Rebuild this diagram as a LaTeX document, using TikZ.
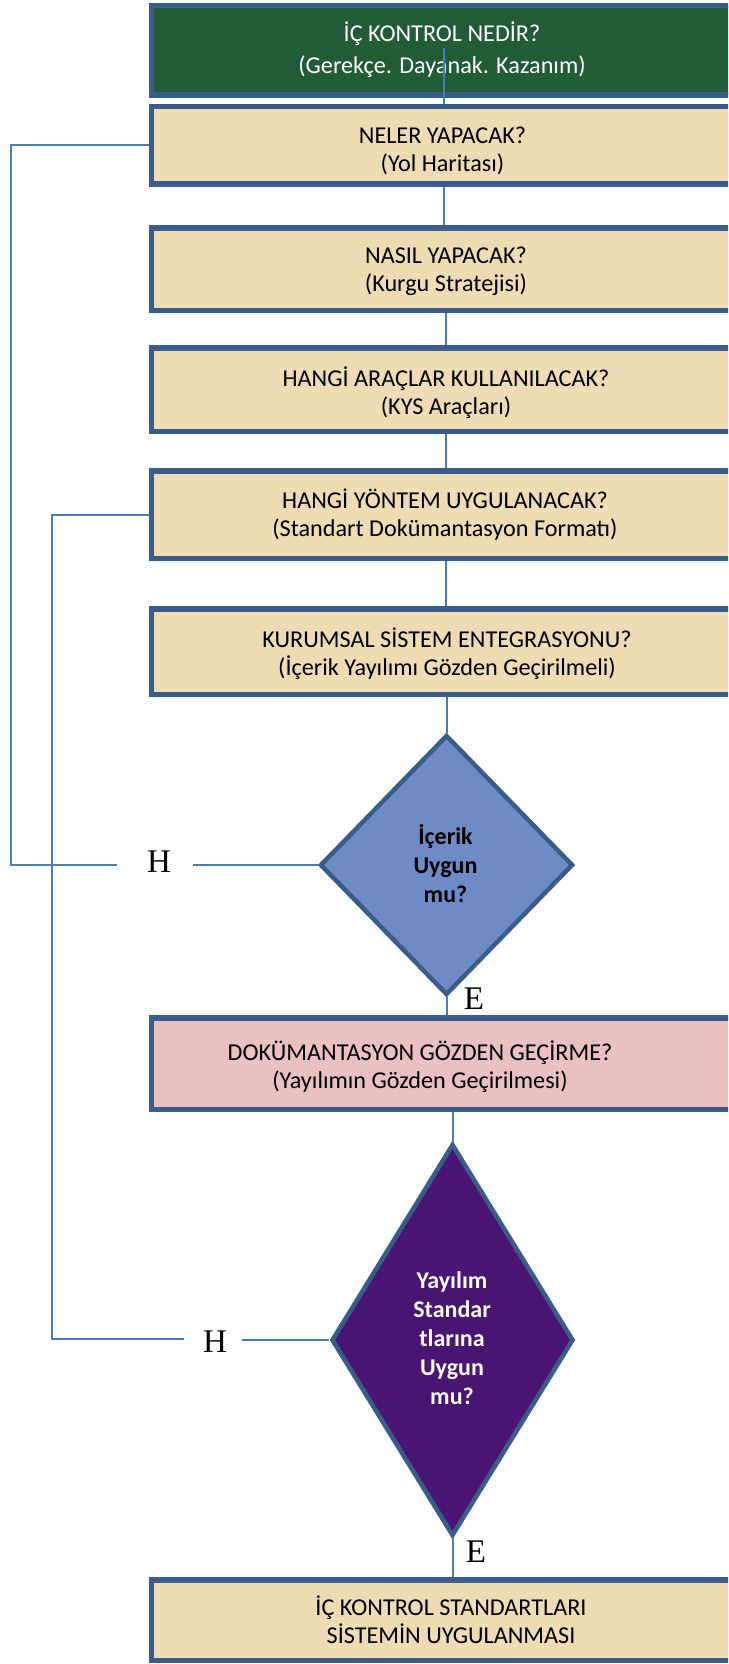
\documentclass[tikz,border=0pt]{standalone}
\usepackage{fontspec}
\setmainfont{Carlito}
\newfontfamily\hefont{Liberation Serif}
\usetikzlibrary{shapes.geometric}
\definecolor{brd}{HTML}{385D8A}
\definecolor{cnc}{HTML}{4A7EBB}
\definecolor{beige}{HTML}{EFDCB4}
\definecolor{mgreen}{HTML}{225C37}
\definecolor{mpink}{HTML}{EAC0C1}
\definecolor{dblue}{HTML}{6D8BC4}
\definecolor{dpurple}{HTML}{4A1572}
\pgfdeclarelayer{bg}
\pgfsetlayers{bg,main}
\begin{document}
\begin{tikzpicture}[x=1pt,y=-1pt,
  box/.style={draw=brd, line width=5.5pt, rectangle, minimum width=585pt, inner sep=0pt},
  dia/.style={draw=brd, line width=4.5pt, diamond, inner sep=0pt, line join=miter},
  txt/.style={align=center, inner sep=0pt, font=\fontsize{24.2}{28}\selectfont},
  dtxt/.style={align=center, inner sep=0pt, font=\fontsize{24}{29}\selectfont\bfseries},
  he/.style={inner sep=0pt, font=\hefont\fontsize{33}{33}\selectfont},
  cn/.style={draw=cnc, line width=2pt}]
\useasboundingbox (0,0) rectangle (728,1664);
\begin{pgfonlayer}{bg}
\fill[white] (0,0) rectangle (728,1664);
\end{pgfonlayer}
\clip (0,0) rectangle (728,1664);

% boxes
\node[box, fill=mgreen, minimum height=89.5pt] (b1) at (444,50.5) {};
\node[box, fill=beige, minimum height=77.5pt] (b2) at (444,145.5) {};
\node[box, fill=beige, minimum height=82.5pt] (b3) at (444,269) {};
\node[box, fill=beige, minimum height=83.5pt] (b4) at (444,389.5) {};
\node[box, fill=beige, minimum height=87.5pt] (b5) at (444,514.5) {};
\node[box, fill=beige, minimum height=85.5pt] (b6) at (444,651.5) {};
\node[box, fill=mpink, minimum height=91.5pt] (b7) at (444,1063.5) {};
\node[box, fill=beige, minimum height=80.5pt] (b8) at (444,1620) {};

% box texts
\node[txt, text=white, font=\fontsize{24.2}{32}\selectfont] (t1) at (442,49.5) {İÇ KONTROL NEDİR?\\(Gerekçe. Dayanak. Kazanım)};
\node[txt] (t2) at (442.5,150.5) {NELER YAPACAK?\\(Yol Haritası)};
\node[txt] (t3) at (446,271.5) {NASIL YAPACAK?\\(Kurgu Stratejisi)};
\node[txt] (t4) at (446,392.5) {HANGİ ARAÇLAR KULLANILACAK?\\(KYS Araçları)};
\node[txt] (t5) at (445,514.5) {HANGİ YÖNTEM UYGULANACAK?\\(Standart Dokümantasyon Formatı)};
\node[txt] (t6) at (447,653.5) {KURUMSAL SİSTEM ENTEGRASYONU?\\(İçerik Yayılımı Gözden Geçirilmeli)};
\node[txt] (t7) at (420,1067) {DOKÜMANTASYON GÖZDEN GEÇİRME?\\(Yayılımın Gözden Geçirilmesi)};
\node[txt] (t8) at (451,1619.5) {İÇ KONTROL STANDARTLARI\\SİSTEMİN UYGULANMASI};

% diamonds
\node[dia, fill=dblue, minimum width=253pt, minimum height=260pt] (d1) at (446.5,865) {};
\node[dtxt] (d1t) at (445.5,864) {İçerik\\Uygun\\mu?};
\node[dia, fill=dpurple, minimum width=242pt, minimum height=392pt] (d2) at (452.5,1340) {};
\node[dtxt, text=white] (d2t) at (452,1338) {Yayılım\\Standar\\tlarına\\Uygun\\mu?};

% labels
\node[he] (H1) at (159,862) {H};
\node[he] (H2) at (215,1342) {H};
\node[he] (E1) at (474,999) {E};
\node[he] (E2) at (476,1552) {E};

% loop coordinates
\coordinate (L1) at (10.5,148);
\coordinate (h1l) at (117,865);
\coordinate (h1r) at (193,865);
\coordinate (L2) at (52,513);
\coordinate (h2l) at (184,1339);
\coordinate (h2r) at (242,1340);

\begin{pgfonlayer}{bg}
\draw[cn] (b2.south) -- (b3.north);
\draw[cn] ([xshift=2pt]b3.south) -- ([xshift=2pt]b4.north);
\draw[cn] ([xshift=2pt]b4.south) -- ([xshift=2pt]b5.north);
\draw[cn] ([xshift=2pt]b5.south) -- ([xshift=2pt]b6.north);
\draw[cn] (b6.south -| d1.north) -- (d1.north);
\draw[cn] (d1.south) -- (b7.north -| d1.south);
\draw[cn] (b7.south -| d2.north) -- (d2.north);
\draw[cn] (d2.south) -- (b8.north -| d2.south);
\draw[cn] (b2.west) -| (L1 |- h1l) -- (h1l);
\draw[cn] (h1r) -- (d1.west);
\draw[cn] (b5.west) -| (L2 |- h2l) -- (h2l);
\draw[cn] (h2r) -- (d2.west);
\end{pgfonlayer}
\draw[cn] ([yshift=2.5pt]b1.center) -- (b2.north);
\end{tikzpicture}
\end{document}
